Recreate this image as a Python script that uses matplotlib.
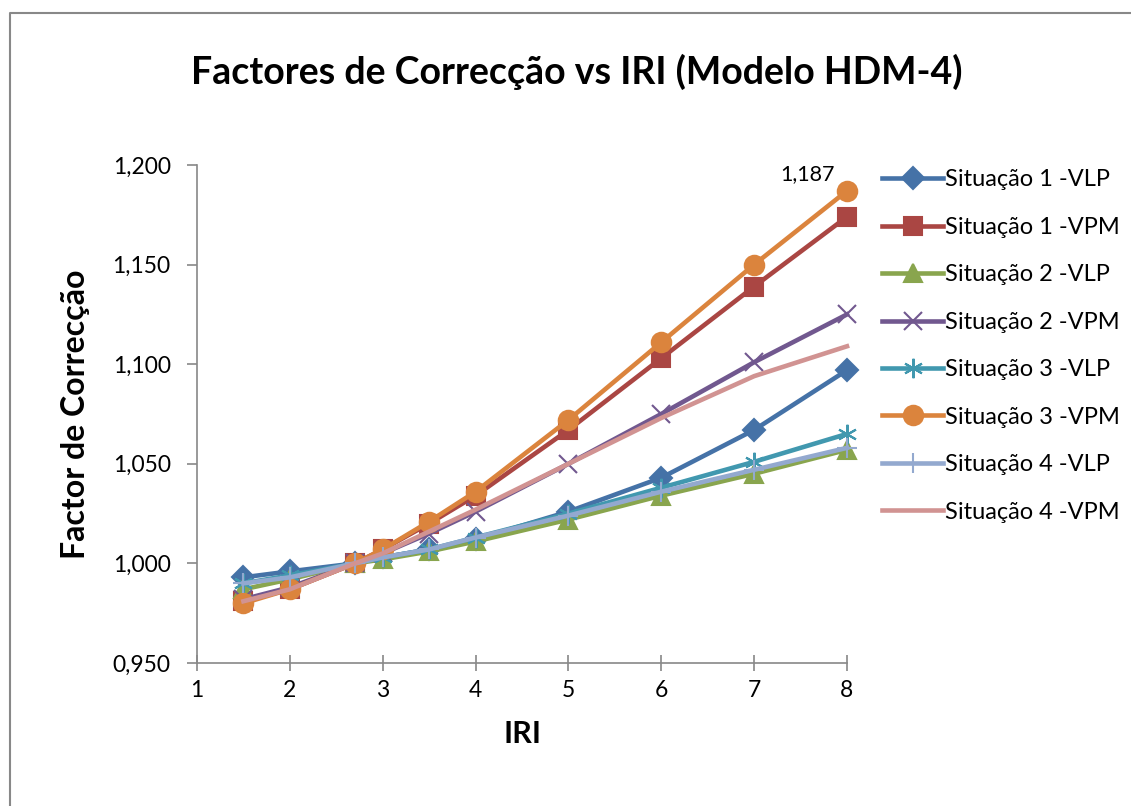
import matplotlib.pyplot as plt
from matplotlib.ticker import FuncFormatter
from matplotlib.lines import Line2D

plt.rcParams['font.family'] = ['Lato', 'DejaVu Sans']

iri = [1.5, 2, 2.7, 3, 3.5, 4, 5, 6, 7, 8]

s1_vlp = [0.993, 0.996, 1.000, 1.003, 1.007, 1.012, 1.026, 1.043, 1.067, 1.097]
s1_vpm = [0.981, 0.987, 1.000, 1.007, 1.020, 1.034, 1.067, 1.103, 1.139, 1.174]
s2_vlp = [0.987, 0.992, 1.000, 1.002, 1.006, 1.011, 1.022, 1.034, 1.045, 1.057]
s2_vpm = [0.982, 0.988, 1.000, 1.005, 1.015, 1.026, 1.050, 1.075, 1.101, 1.125]
s3_vlp = [0.990, 0.994, 1.000, 1.003, 1.007, 1.013, 1.025, 1.038, 1.051, 1.065]
s3_vpm = [0.980, 0.987, 1.000, 1.007, 1.021, 1.036, 1.072, 1.111, 1.150, 1.187]
s4_vlp = [0.990, 0.993, 1.000, 1.003, 1.007, 1.013, 1.024, 1.036, 1.047, 1.058]
s4_vpm = [0.981, 0.987, 1.000, 1.005, 1.016, 1.027, 1.050, 1.073, 1.094, 1.109]

labels = ["Situação 1 -VLP", "Situação 1 -VPM", "Situação 2 -VLP", "Situação 2 -VPM",
          "Situação 3 -VLP", "Situação 3 -VPM", "Situação 4 -VLP", "Situação 4 -VPM"]
series = [s1_vlp, s1_vpm, s2_vlp, s2_vpm, s3_vlp, s3_vpm, s4_vlp, s4_vpm]
colors = ['#4572A7', '#AA4643', '#89A54E', '#71588F', '#4198AF', '#DB843D', '#93A9CF', '#D19392']
markers = ['D', 's', '^', 'x', (6, 2, 0), 'o', '+', None]
msizes = [11, 13, 13, 13, 14, 14, 14, 0]

fig = plt.figure(figsize=(11.31, 8.06), dpi=100)
# chart frame: only top and left edges are visible in the crop
fig.lines.append(Line2D([10 / 1131, 10 / 1131, 1.0], [0.0, 1 - 13 / 806, 1 - 13 / 806],
                        transform=fig.transFigure, color='#888888', linewidth=1.5))
ax = fig.add_axes([197 / 1131, 1 - 663 / 806, 650 / 1131, 498 / 806])

for y, lab, c, m, ms in zip(series, labels, colors, markers, msizes):
    ax.plot(iri, y, color=c, linewidth=3.3, marker=m, markersize=ms,
            markeredgecolor=c, markerfacecolor=c, markeredgewidth=1.5,
            label=lab, clip_on=False)

ax.annotate("1,187", (iri[-1], s3_vpm[-1]), xytext=(-9, 5), textcoords='offset points',
            ha='right', va='bottom', fontsize=15.5)

ax.set_xlim(1, 8)
ax.set_ylim(0.95, 1.2)
ax.set_xticks(range(1, 9))
ax.set_yticks([0.95, 1.0, 1.05, 1.1, 1.15, 1.2])
ax.yaxis.set_major_formatter(FuncFormatter(lambda v, p: f"{v:.3f}".replace('.', ',')))
ax.tick_params(axis='both', labelsize=16.5, color='#888888', width=1.2)
ax.tick_params(axis='y', length=7, pad=12)
ax.tick_params(axis='x', direction='inout', length=12, pad=6)
for s in ['top', 'right']:
    ax.spines[s].set_visible(False)
for s in ['left', 'bottom']:
    ax.spines[s].set_color('#888888')
    ax.spines[s].set_linewidth(1.2)

ax.set_xlabel("IRI", fontsize=22, fontweight='bold', labelpad=14)
ax.set_ylabel("Factor de Correcção", fontsize=23, fontweight='bold', labelpad=16)
fig.text(577 / 1131, 1 - 72 / 806, "Factores de Correcção vs IRI (Modelo HDM-4)",
         ha='center', va='center', fontsize=27, fontweight='bold')

leg = ax.legend(loc='upper left', bbox_to_anchor=(1.04, 1.01), frameon=False,
                fontsize=17, handlelength=2.55, handletextpad=0.1, labelspacing=1.12,
                borderaxespad=0)

fig.savefig("out.png", dpi=100)
